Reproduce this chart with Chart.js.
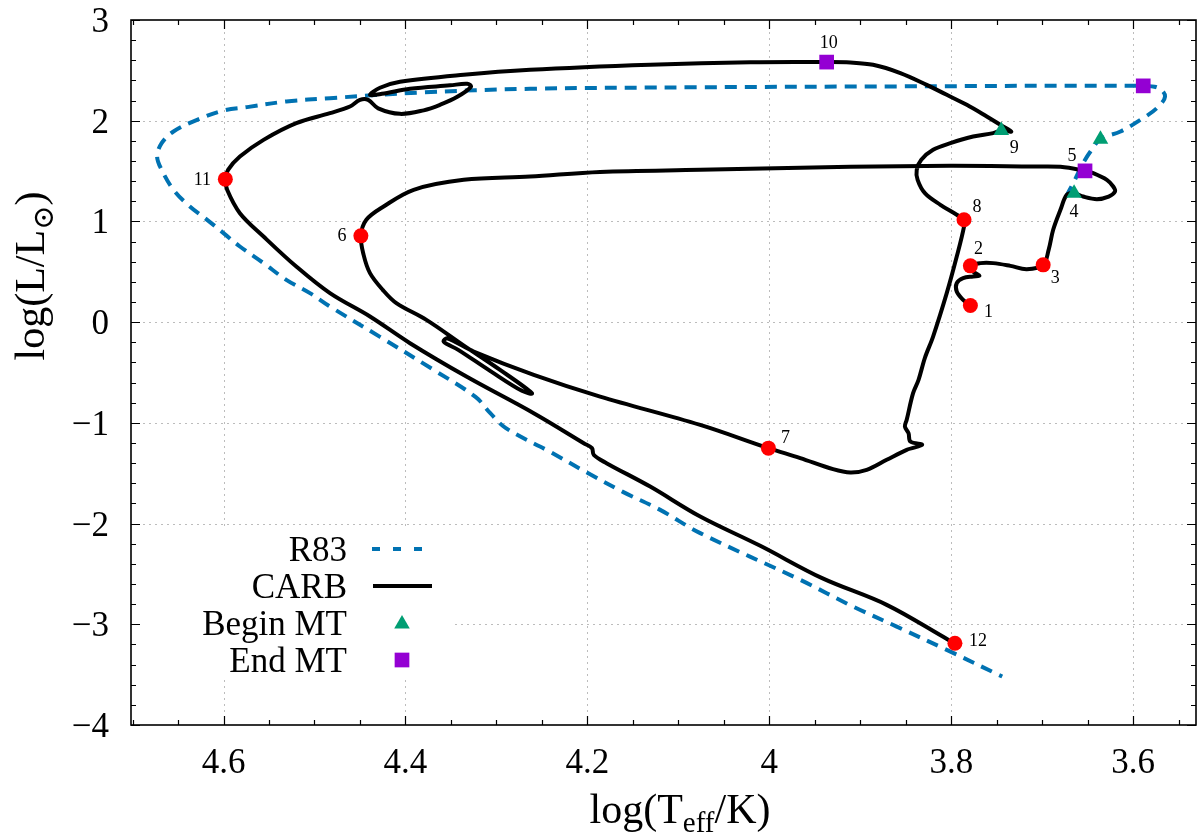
<!DOCTYPE html>
<html>
<head>
<meta charset="utf-8">
<script src="https://cdn.jsdelivr.net/npm/chart.js@4.4.1/dist/chart.umd.min.js"></script>
<style>
  html, body { margin: 0; padding: 0; background: #ffffff; }
  #wrap { width: 1199px; height: 836px; }
</style>
</head>
<body>
<div id="wrap"><canvas id="hrd" width="1199" height="836"></canvas></div>
<script>
// CARB evolutionary track: log Teff and log L along the track
const carbLogT = [
  3.779,3.787,3.794,3.794,3.787,3.776,3.769,3.776,3.779,3.768,
  3.754,3.735,3.717,3.699,3.693,3.688,3.680,3.673,3.665,3.655,
  3.640,3.627,3.620,3.622,3.629,3.644,3.653,3.680,3.710,3.801,
  3.911,4.076,4.186,4.263,4.336,4.391,4.424,4.443,4.449,4.446,
  4.439,4.425,4.410,4.377,4.337,4.296,4.261,4.272,4.307,4.342,
  4.358,4.354,4.325,4.259,4.186,4.076,4.001,3.966,3.930,3.911,
  3.893,3.871,3.849,3.832,3.845,3.847,3.851,3.849,3.842,3.836,
  3.829,3.820,3.805,3.794,3.786,3.786,3.794,3.812,3.829,3.837,
  3.838,3.833,3.820,3.801,3.776,3.754,3.745,3.734,3.746,3.761,
  3.783,3.805,3.827,3.856,3.886,3.911,3.937,4.021,4.131,4.263,
  4.336,4.406,4.428,4.439,4.426,4.395,4.351,4.332,4.328,4.343,
  4.362,4.380,4.406,4.430,4.441,4.450,4.461,4.483,4.520,4.556,
  4.582,4.595,4.598,4.596,4.582,4.556,4.520,4.483,4.439,4.395,
  4.333,4.259,4.204,4.195,4.193,4.179,4.131,4.076,4.010,3.942,
  3.871,3.803,3.796
];
const carbLogL = [
  0.165,0.221,0.304,0.387,0.437,0.453,0.460,0.502,0.559,0.586,
  0.586,0.559,0.526,0.569,0.718,0.917,1.115,1.264,1.281,1.247,
  1.221,1.247,1.297,1.347,1.413,1.480,1.502,1.542,1.545,1.552,
  1.542,1.512,1.492,1.446,1.413,1.314,1.148,1.016,0.857,0.668,
  0.487,0.321,0.189,0.023,-0.225,-0.474,-0.705,-0.682,-0.484,-0.275,
  -0.193,-0.161,-0.292,-0.523,-0.739,-1.020,-1.251,-1.350,-1.460,-1.493,
  -1.467,-1.367,-1.268,-1.218,-1.186,-1.102,-1.037,-0.970,-0.705,-0.573,
  -0.354,-0.143,0.288,0.651,0.949,1.016,1.066,1.165,1.281,1.413,
  1.512,1.612,1.711,1.777,1.843,1.877,1.903,1.893,1.959,2.042,
  2.158,2.257,2.356,2.473,2.555,2.578,2.582,2.580,2.555,2.505,
  2.456,2.386,2.327,2.257,2.267,2.317,2.351,2.366,2.337,2.237,
  2.158,2.103,2.068,2.123,2.207,2.207,2.141,2.075,1.976,1.810,
  1.644,1.512,1.420,1.314,1.082,0.850,0.552,0.288,0.056,-0.209,
  -0.540,-0.904,-1.202,-1.251,-1.318,-1.400,-1.633,-1.930,-2.221,-2.542,
  -2.807,-3.155,-3.188
];

// R83 comparison track
const r83LogT = [
  3.674,3.666,3.655,3.647,3.636,3.614,3.592,3.574,3.565,3.572,
  3.589,3.856,4.076,4.263,4.384,4.483,4.531,4.574,4.600,4.629,
  4.655,4.668,4.673,4.668,4.655,4.637,4.618,4.600,4.582,4.556,
  4.531,4.505,4.483,4.428,4.369,4.323,4.307,4.290,4.241,4.200,
  4.161,4.120,4.076,3.966,3.908,3.860,3.805,3.744
];
const r83LogL = [
  1.244,1.380,1.579,1.694,1.817,1.893,2.009,2.125,2.240,2.324,
  2.346,2.341,2.332,2.317,2.280,2.224,2.191,2.135,2.101,2.009,
  1.893,1.777,1.644,1.512,1.314,1.148,1.016,0.884,0.751,0.586,
  0.420,0.288,0.155,-0.146,-0.474,-0.742,-0.901,-1.050,-1.288,-1.496,
  -1.685,-1.864,-2.095,-2.559,-2.824,-3.023,-3.254,-3.519
];

// Numbered evolutionary stages on the CARB track
const stageNames = ['1','2','3','4','5','6','7','8','9','10','11','12'];
const stageLogT  = [3.779,3.779,3.699,3.665,3.653,4.449,4.001,3.786,3.745,3.937,4.598,3.796];
const stageLogL  = [0.165,0.559,0.569,1.281,1.502,0.857,-1.251,1.016,1.903,2.582,1.420,-3.188];
// 'stage' = plain stage, 'begin' = begin of mass transfer, 'end' = end of mass transfer
const stageKind  = ['stage','stage','stage','begin','end','stage','stage','stage','begin','end','stage','stage'];

// Mass-transfer begin / end on the R83 track
const r83BeginMT = { logT: 3.636, logL: 1.817 };
const r83EndMT   = { logT: 3.589, logL: 2.346 };

// Axis ticks
const xMajorTicks = [4.6, 4.4, 4.2, 4.0, 3.8, 3.6];
const xTickLabels = ['4.6', '4.4', '4.2', '4', '3.8', '3.6'];
const yMajorTicks = [3, 2, 1, 0, -1, -2, -3, -4];
const yTickLabels = ['3', '2', '1', '0', '\u22121', '\u22122', '\u22123', '\u22124'];

// ---------- styling ----------
const SERIF = '"Liberation Serif", "DejaVu Serif", serif';
const BLUE = '#0072b2', GREEN = '#009e73', PURPLE = '#9400d3', RED = '#ff0000';
// label placement around each stage marker (pixels)
const stageLabelOffset = [[18,7],[8,-17],[12,13],[0,19],[-13,-15],[-19,0],[17,-10],[13,-13],[13,18],[2,-19],[-23,1],[23,-2]];

const pts = (xs, ys) => xs.map((v, i) => ({ x: v, y: ys[i] }));
const pick = (kind) => stageKind.map((k, i) => k === kind ? i : -1).filter(i => i >= 0);

const circleIdx = pick('stage'), beginIdx = pick('begin'), endIdx = pick('end');

const datasets = [
  { // red circles
    label: 'stages', order: 0, showLine: false,
    data: circleIdx.map(i => ({ x: stageLogT[i], y: stageLogL[i] })),
    pointStyle: 'circle', pointRadius: 7.5, pointBackgroundColor: RED, pointBorderWidth: 0
  },
  { // begin MT
    label: 'Begin MT', order: 0, showLine: false,
    data: beginIdx.map(i => ({ x: stageLogT[i], y: stageLogL[i] })).concat([{ x: r83BeginMT.logT, y: r83BeginMT.logL }]),
    pointStyle: 'triangle', pointRadius: 9, pointBackgroundColor: GREEN, pointBorderWidth: 0
  },
  { // end MT
    label: 'End MT', order: 0, showLine: false,
    data: endIdx.map(i => ({ x: stageLogT[i], y: stageLogL[i] })).concat([{ x: r83EndMT.logT, y: r83EndMT.logL }]),
    pointStyle: 'rect', pointRadius: 10.4, pointBackgroundColor: PURPLE, pointBorderWidth: 0
  },
  {
    label: 'CARB', order: 1, showLine: true,
    data: pts(carbLogT, carbLogL),
    borderColor: '#000000', borderWidth: 4, pointRadius: 0, tension: 0.35,
    borderJoinStyle: 'round', borderCapStyle: 'round'
  },
  {
    label: 'R83', order: 2, showLine: true,
    data: pts(r83LogT, r83LogL),
    borderColor: BLUE, borderWidth: 4, borderDash: [12, 8], pointRadius: 0, tension: 0.35
  }
];

function drawMarker(ctx, kind, x, y) {
  ctx.beginPath();
  if (kind === 'triangle') {
    const r = 9;
    ctx.moveTo(x, y - r);
    ctx.lineTo(x + r * Math.sin(2 * Math.PI / 3), y - r * Math.cos(2 * Math.PI / 3));
    ctx.lineTo(x + r * Math.sin(4 * Math.PI / 3), y - r * Math.cos(4 * Math.PI / 3));
    ctx.closePath();
    ctx.fillStyle = GREEN;
  } else {
    const s = 7.35;
    ctx.rect(x - s, y - s, 2 * s, 2 * s);
    ctx.fillStyle = PURPLE;
  }
  ctx.fill();
}

const decor = {
  id: 'decor',
  beforeDatasetsDraw(chart) {
    const { ctx, chartArea: a, scales: { x, y } } = chart;
    ctx.save();
    ctx.strokeStyle = '#bcbcbc';
    ctx.lineWidth = 1;
    ctx.setLineDash([2, 4]);
    xMajorTicks.forEach(v => {
      const p = Math.round(x.getPixelForValue(v)) + 0.5;
      ctx.beginPath(); ctx.moveTo(p, a.top); ctx.lineTo(p, a.bottom); ctx.stroke();
    });
    yMajorTicks.forEach(v => {
      if (v === 3 || v === -4) return;
      const p = Math.round(y.getPixelForValue(v)) + 0.5;
      ctx.beginPath(); ctx.moveTo(a.left, p); ctx.lineTo(a.right, p); ctx.stroke();
    });
    ctx.setLineDash([]);
    // legend backing
    ctx.fillStyle = '#ffffff';
    ctx.fillRect(a.left + 1, 530, 322, 147);
    ctx.restore();
  },
  afterDraw(chart) {
    const { ctx, chartArea: a, scales: { x, y } } = chart;
    ctx.save();

    // tick marks (inward, all four sides)
    ctx.strokeStyle = '#000';
    ctx.lineWidth = 1.2;
    const xTick = (v, len) => {
      const p = Math.round(x.getPixelForValue(v)) + 0.5;
      ctx.beginPath();
      ctx.moveTo(p, a.bottom); ctx.lineTo(p, a.bottom - len);
      ctx.moveTo(p, a.top); ctx.lineTo(p, a.top + len);
      ctx.stroke();
    };
    const yTick = (v, len) => {
      const p = Math.round(y.getPixelForValue(v)) + 0.5;
      ctx.beginPath();
      ctx.moveTo(a.left, p); ctx.lineTo(a.left + len, p);
      ctx.moveTo(a.right, p); ctx.lineTo(a.right - len, p);
      ctx.stroke();
    };
    for (let k = 0; k <= 23; k++) {
      const v = 4.70 - k * 0.05;
      const major = xMajorTicks.some(m => Math.abs(m - v) < 1e-6);
      xTick(v, major ? 9 : 5);
    }
    for (let k = 0; k <= 35; k++) {
      const v = -4 + k * 0.2;
      const major = Math.abs(v - Math.round(v)) < 1e-6;
      yTick(v, major ? 9 : 5);
    }

    // frame
    ctx.lineWidth = 1.6;
    ctx.strokeRect(a.left, a.top, a.right - a.left, a.bottom - a.top);

    // tick labels
    ctx.fillStyle = '#000';
    ctx.font = '35px ' + SERIF;
    ctx.textAlign = 'center';
    ctx.textBaseline = 'alphabetic';
    xMajorTicks.forEach((v, i) => ctx.fillText(xTickLabels[i], x.getPixelForValue(v), 773));
    ctx.textAlign = 'right';
    yMajorTicks.forEach((v, i) => ctx.fillText(yTickLabels[i], 109, y.getPixelForValue(v) + 12));

    // x axis title: log(T_eff/K)
    const big = '42px ' + SERIF, sub = '29px ' + SERIF;
    ctx.textAlign = 'left';
    ctx.font = big; const w1 = ctx.measureText('log(T').width;
    ctx.font = sub; const w2 = ctx.measureText('eff').width;
    ctx.font = big; const w3 = ctx.measureText('/K)').width;
    let sx = 680 - (w1 + w2 + w3) / 2;
    const by = 823;
    ctx.font = big; ctx.fillText('log(T', sx, by); sx += w1;
    ctx.font = sub; ctx.fillText('eff', sx, by + 9); sx += w2;
    ctx.font = big; ctx.fillText('/K)', sx, by);

    // y axis title: log(L/L_sun)
    ctx.save();
    ctx.translate(44, 276);
    ctx.rotate(-Math.PI / 2);
    ctx.font = big; const u1 = ctx.measureText('log(L/L').width;
    ctx.font = sub; const u2 = ctx.measureText('\u2299').width;
    ctx.font = big; const u3 = ctx.measureText(')').width;
    let ux = -(u1 + u2 + u3) / 2;
    ctx.font = big; ctx.fillText('log(L/L', ux, 0); ux += u1;
    ctx.font = sub; ctx.fillText('\u2299', ux, 9); ux += u2;
    ctx.font = big; ctx.fillText(')', ux, 0);
    ctx.restore();

    // stage numbers
    ctx.font = '18px ' + SERIF;
    ctx.textAlign = 'center';
    ctx.textBaseline = 'middle';
    stageNames.forEach((name, i) => {
      const px = x.getPixelForValue(stageLogT[i]) + stageLabelOffset[i][0];
      const py = y.getPixelForValue(stageLogL[i]) + stageLabelOffset[i][1];
      ctx.fillText(name, px, py);
    });

    // legend
    ctx.font = '35px ' + SERIF;
    ctx.textAlign = 'right';
    ctx.textBaseline = 'alphabetic';
    const rows = [549, 586, 623, 660];
    ['R83', 'CARB', 'Begin MT', 'End MT'].forEach((t, i) => ctx.fillText(t, 347, rows[i] + 12));
    ctx.lineWidth = 4;
    ctx.strokeStyle = BLUE;
    ctx.setLineDash([8, 13]);
    ctx.beginPath(); ctx.moveTo(372, rows[0]); ctx.lineTo(423, rows[0]); ctx.stroke();
    ctx.setLineDash([]);
    ctx.strokeStyle = '#000';
    ctx.beginPath(); ctx.moveTo(373, rows[1]); ctx.lineTo(432, rows[1]); ctx.stroke();
    drawMarker(ctx, 'triangle', 402, rows[2] + 1);
    drawMarker(ctx, 'rect', 402, rows[3]);

    ctx.restore();
  }
};

new Chart(document.getElementById('hrd'), {
  type: 'scatter',
  data: { datasets },
  options: {
    responsive: false,
    devicePixelRatio: 1,
    animation: false,
    layout: { autoPadding: false, padding: { left: 131, right: 3, top: 20, bottom: 111 } },
    plugins: { legend: { display: false }, tooltip: { enabled: false } },
    scales: {
      x: { type: 'linear', reverse: true, min: 3.531, max: 4.7017, display: false },
      y: { type: 'linear', min: -4, max: 3, display: false }
    }
  },
  plugins: [decor]
});
</script>
</body>
</html>
